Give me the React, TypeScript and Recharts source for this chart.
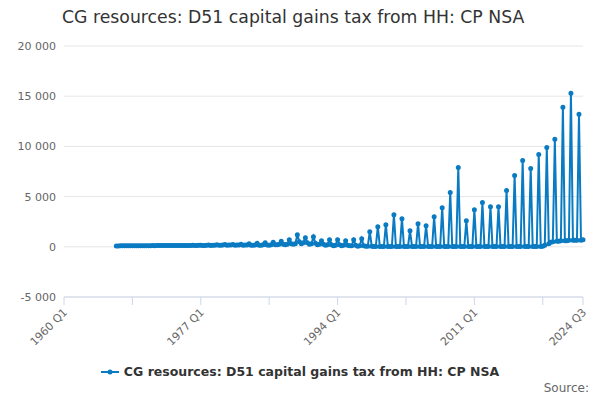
import { LineChart, Line, XAxis, YAxis, CartesianGrid } from 'recharts';

// quarterly values per year, [Q1, Q2, Q3, Q4]; null where no data
const firstYear = 1960;
const yearlyQuarters: (number | null)[][] = [
  [null, null, null, null], // 1960
  [null, null, null, null],
  [null, null, null, null],
  [null, null, null, null],
  [null, null, null, null],
  [null, null, null, null], // 1965
  [null, null, 90, 90],
  [95, 95, 95, 100],
  [100, 100, 105, 105],
  [110, 105, 110, 110],
  [115, 110, 115, 115], // 1970
  [120, 115, 120, 120],
  [125, 120, 125, 125],
  [130, 125, 130, 130],
  [135, 130, 130, 135],
  [140, 130, 135, 140], // 1975
  [150, 130, 140, 145],
  [160, 135, 140, 150],
  [180, 140, 150, 160],
  [200, 150, 160, 170],
  [220, 150, 170, 180], // 1980
  [240, 150, 170, 190],
  [260, 150, 180, 190],
  [300, 150, 160, 170],
  [350, 150, 160, 200],
  [400, 180, 160, 200], // 1985
  [450, 200, 200, 250],
  [550, 250, 200, 250],
  [700, 300, 250, 300],
  [1200, 500, 300, 400],
  [900, 400, 250, 300], // 1990
  [1000, 350, 200, 250],
  [600, 250, 150, 200],
  [700, 200, 100, 150],
  [700, 200, 100, 150],
  [600, 150, 100, 100], // 1995
  [700, 150, 50, 100],
  [800, 100, 50, 50],
  [1500, 50, 30, 30],
  [2000, 40, 30, 30],
  [2200, 40, 30, 30], // 2000
  [3200, 40, 30, 30],
  [2800, 40, 30, 30],
  [1600, 40, 30, 30],
  [2300, 40, 30, 30],
  [2100, 40, 30, 30], // 2005
  [3000, 40, 30, 30],
  [3900, 40, 30, 30],
  [5400, 40, 30, 30],
  [7900, 40, 30, 30],
  [2600, 40, 30, 30], // 2010
  [3700, 40, 30, 30],
  [4400, 40, 30, 30],
  [4000, 40, 30, 30],
  [4000, 40, 30, 30],
  [5600, 40, 30, 30], // 2015
  [7100, 40, 30, 30],
  [8600, 40, 30, 30],
  [7800, 40, 30, 30],
  [9200, 40, 50, 150],
  [9900, 300, 450, 500], // 2020
  [10700, 550, 550, 600],
  [13900, 600, 600, 650],
  [15300, 650, 650, 650],
  [13200, 650, 700], // 2024
];

const yTicks = [-5000, 0, 5000, 10000, 15000, 20000];
const labelledTicks = ['1960 Q1', '1977 Q1', '1994 Q1', '2011 Q1', '2024 Q3'];
const seriesName = 'CG resources: D51 capital gains tax from HH: CP NSA';

const data = yearlyQuarters.flatMap((qs, yi) =>
  qs.map((v, qi) => ({ period: `${firstYear + yi} Q${qi + 1}`, value: v }))
);
const xTicks = data
  .map((d, i) => (i % 34 === 0 || i === data.length - 1 ? d.period : null))
  .filter((p): p is string => p !== null);

const BLUE = '#0a7bc2';
const FONT = '"DejaVu Sans", sans-serif';

const fmt = (v: number) =>
  v === 0 ? '0' : `${v < 0 ? '-' : ''}${Math.abs(v) >= 1000 ? Math.floor(Math.abs(v) / 1000) + ' 000' : Math.abs(v)}`;

const XTick = (props: any) => {
  const { x, y, payload } = props;
  if (!labelledTicks.includes(payload.value)) return <g />;
  return (
    <text
      x={x + 4}
      y={y + 6}
      transform={`rotate(-45 ${x + 4} ${y + 6})`}
      textAnchor="end"
      fontSize={11}
      fill="#666"
      fontFamily={FONT}
    >
      {payload.value}
    </text>
  );
};

export default function App() {
  return (
    <div style={{ position: 'absolute', left: 0, top: 0, width: 600, height: 400, background: '#fff', fontFamily: FONT }}>
      <div style={{ position: 'absolute', left: 62, top: 7, fontSize: 17.3, color: '#333' }}>{seriesName}</div>
      <LineChart width={600} height={400} data={data} margin={{ top: 46, right: 17, bottom: 43, left: 0 }}>
        <CartesianGrid vertical={false} stroke="#e6e6e6" />
        <XAxis
          dataKey="period"
          ticks={xTicks}
          interval={0}
          tick={<XTick />}
          tickLine={{ stroke: '#ccd6eb' }}
          height={60}
          stroke="#ccd6eb"
          tickSize={8}
        />
        <YAxis
          domain={[-5000, 20000]}
          ticks={yTicks}
          tickFormatter={fmt}
          width={64}
          axisLine={false}
          tickLine={false}
          tick={{ fontSize: 11, fill: '#666', fontFamily: FONT }}
        />
        <Line
          dataKey="value"
          stroke={BLUE}
          strokeWidth={2}
          dot={{ r: 1.5, fill: BLUE, stroke: BLUE }}
          isAnimationActive={false}
          connectNulls={false}
        />
      </LineChart>
      <div style={{ position: 'absolute', left: 0, width: 600, top: 364, display: 'flex', justifyContent: 'center', alignItems: 'center', fontSize: 12.5, fontWeight: 'bold', color: '#333' }}>
        <svg width={18} height={10} style={{ marginRight: 5 }}>
          <line x1={0} y1={5} x2={18} y2={5} stroke={BLUE} strokeWidth={2} />
          <circle cx={9} cy={5} r={2.5} fill={BLUE} />
        </svg>
        {seriesName}
      </div>
      <div style={{ position: 'absolute', right: 11, top: 381, fontSize: 12, color: '#666' }}>Source:</div>
    </div>
  );
}
